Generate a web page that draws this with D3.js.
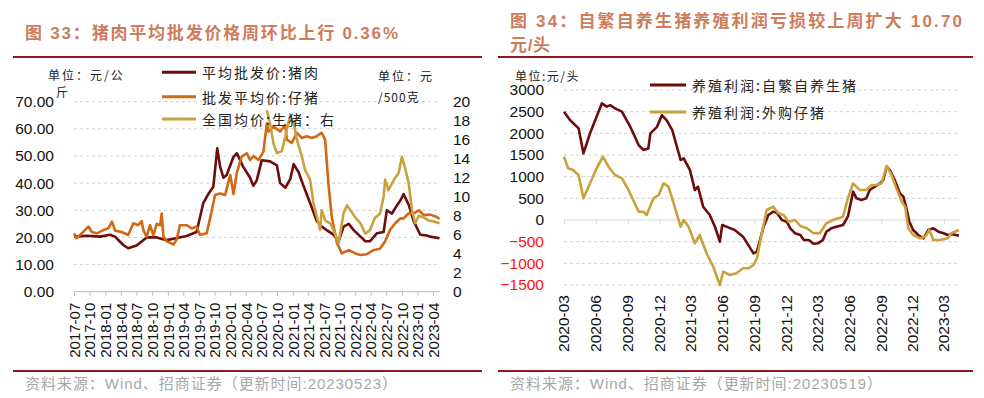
<!DOCTYPE html>
<html><head><meta charset="utf-8">
<script src="https://cdn.jsdelivr.net/npm/d3@7"></script>
<style>
html,body{margin:0;padding:0;background:#fff;}
svg{display:block;}
</style></head>
<body>
<svg id="chart" width="984" height="398"></svg>
<script>
// ---------------- Data: Figure 33 ----------------
const leftTickLabels = ["2017-07","2017-10","2018-01","2018-04","2018-07","2018-10","2019-01","2019-04","2019-07","2019-10","2020-01","2020-04","2020-07","2020-10","2021-01","2021-04","2021-07","2021-10","2022-01","2022-04","2022-07","2022-10","2023-01","2023-04"];
const leftAxisTicks = [0,10,20,30,40,50,60,70];
const rightAxisTicks = [0,2,4,6,8,10,12,14,16,18,20];

// 平均批发价:猪肉 (元/公斤, left axis)
const porkWholesale = [
["2017-07-01",20.3],["2017-09-14",20.6],["2017-12-01",20.3],["2018-01-28",21],["2018-02-26",20.3],
["2018-04-15",17.2],["2018-05-14",16],["2018-07-02",17],["2018-08-30",20],["2018-10-28",20],
["2018-12-25",19],["2019-02-04",19.5],["2019-04-21",20.5],["2019-06-18",22],["2019-07-27",32.6],
["2019-08-26",36],["2019-09-24",38.7],["2019-10-17",52.8],["2019-11-03",46],["2019-11-22",42],
["2019-12-11",43],["2020-01-20",49.7],["2020-02-09",51],["2020-03-17",46],["2020-04-26",42],
["2020-05-15",39],["2020-06-04",41],["2020-07-03",48.4],["2020-08-21",48],["2020-09-30",46.5],
["2020-10-19",40],["2020-11-18",38.3],["2020-12-17",41.5],["2021-01-06",47],["2021-02-04",44],
["2021-03-04",39],["2021-03-23",36],["2021-04-22",31],["2021-05-21",26],["2021-06-19",24],
["2021-07-18",22.7],["2021-08-27",21],["2021-09-26",18.6],["2021-10-25",24],["2021-11-24",25],
["2021-12-23",22.7],["2022-02-01",20.3],["2022-03-01",18.6],["2022-03-29",18.6],["2022-05-07",21.5],
["2022-06-16",22],["2022-07-05",30],["2022-08-04",28.8],["2022-09-02",31.8],["2022-09-22",33.6],
["2022-10-11",36],["2022-11-10",32],["2022-12-09",26],["2023-01-17",21],["2023-02-15",20.8],
["2023-03-15",20.3],["2023-05-09",19.7]
];
// 批发平均价:仔猪 (元/公斤, left axis)
const pigletWholesale = [
["2017-07-01",21.5],["2017-07-16",19.7],["2017-08-25",22.1],["2017-09-23",24],["2017-10-13",22],
["2017-11-11",21.5],["2017-12-20",22.7],["2018-01-19",23.4],["2018-02-08",25.8],["2018-02-27",22.5],
["2018-04-06",22],["2018-05-14",20.9],["2018-06-13",25.2],["2018-07-12",24.5],["2018-08-01",26],
["2018-08-10",22.8],["2018-08-30",20.3],["2018-09-19",24.5],["2018-10-08",20.8],["2018-10-28",25],
["2018-11-17",24.5],["2018-11-26",28.8],["2018-12-06",20.3],["2018-12-25",18.6],["2019-01-14",18],
["2019-02-04",17.4],["2019-02-23",19.5],["2019-03-12",24.5],["2019-04-21",24.5],["2019-05-20",23.3],
["2019-06-18",24],["2019-07-08",20.9],["2019-08-16",21.5],["2019-09-05",27],["2019-10-04",35.6],
["2019-11-03",36.2],["2019-12-02",35.6],["2020-01-01",43],["2020-01-20",36],["2020-02-09",44],
["2020-03-08",49.8],["2020-04-07",51],["2020-04-26",48.5],["2020-05-15",50],["2020-06-14",48.5],
["2020-07-13",51.6],["2020-08-02",62],["2020-08-12",59],["2020-09-10",60.8],["2020-10-19",59],
["2020-11-18",61.5],["2020-11-27",56],["2020-12-26",54.8],["2021-01-25",58.5],["2021-02-23",56.6],
["2021-03-23",57.3],["2021-04-22",56.6],["2021-05-21",57.3],["2021-06-19",58.5],["2021-07-09",56],
["2021-07-28",40],["2021-08-17",27.5],["2021-09-16",18],["2021-10-15",14.1],["2021-11-24",15.3],
["2022-01-02",14.1],["2022-02-01",13.5],["2022-03-09",13.8],["2022-04-17",15.3],["2022-05-26",15.8],
["2022-06-25",18.6],["2022-07-24",22.8],["2022-08-23",25.2],["2022-09-22",27],["2022-10-11",27],
["2022-11-10",28.9],["2022-12-09",28.9],["2023-01-08",30],["2023-02-06",28.2],["2023-03-15",28.4],
["2023-04-23",27.5],["2023-05-09",26.8]
];
// 全国均价:生猪 (元/500克, right axis)
const hogNational = [
["2020-08-02",19.1],["2020-08-21",17.7],["2020-09-10",15.6],["2020-09-30",14.6],["2020-10-29",14.8],
["2020-11-18",16.3],["2020-12-07",17.9],["2020-12-17",18.4],["2021-01-06",17.7],["2021-01-25",16],
["2021-02-23",14.2],["2021-03-14",12.8],["2021-04-12",11.8],["2021-05-02",9.3],["2021-05-31",7.2],
["2021-06-10",6.5],["2021-06-19",8.6],["2021-07-09",7.5],["2021-08-08",7.2],["2021-08-27",6.5],
["2021-09-26",5.1],["2021-10-25",8.3],["2021-11-14",9.1],["2021-12-03",8.6],["2022-01-02",7.8],
["2022-02-01",7.2],["2022-03-01",6.1],["2022-03-29",6.5],["2022-04-27",7.8],["2022-05-26",8.2],
["2022-06-16",10],["2022-06-25",11.8],["2022-07-14",10.7],["2022-08-04",11.4],["2022-08-23",12],
["2022-09-12",12.5],["2022-10-01",14.2],["2022-10-20",13],["2022-11-10",11.4],["2022-11-29",8.6],
["2022-12-18",7.2],["2023-01-08",8],["2023-02-06",7.8],["2023-03-05",7.5],["2023-04-04",7.4],
["2023-05-09",7.2]
];

// ---------------- Data: Figure 34 ----------------
const profitTickLabels = ["2020-03","2020-06","2020-09","2020-12","2021-03","2021-06","2021-09","2021-12","2022-03","2022-06","2022-09","2022-12","2023-03"];
const profitAxisTicks = [-1500,-1000,-500,0,500,1000,1500,2000,2500,3000];
// 养殖利润:自繁自养生猪 (元/头)
const profitSelfBred = [
["2020-03-01",2500],["2020-03-18",2307],["2020-04-12",2115],["2020-04-26",1538],["2020-05-15",2000],
["2020-06-18",2690],["2020-07-02",2615],["2020-07-12",2650],["2020-07-26",2576],["2020-08-15",2500],
["2020-09-08",2150],["2020-10-02",1730],["2020-10-16",1615],["2020-10-30",1650],["2020-11-05",2000],
["2020-11-24",2150],["2020-12-08",2420],["2020-12-22",2300],["2021-01-07",2076],["2021-01-31",1384],
["2021-02-09",1423],["2021-02-27",1150],["2021-03-13",692],["2021-03-22",769],["2021-04-06",307],
["2021-04-25",115],["2021-05-10",-154],["2021-05-24",-500],["2021-05-31",-115],["2021-06-17",-170],
["2021-07-06",-230],["2021-07-30",-385],["2021-08-29",-770],["2021-09-08",-730],["2021-09-17",-460],
["2021-09-27",-154],["2021-10-11",115],["2021-10-25",192],["2021-11-04",170],["2021-11-19",0],
["2021-12-03",-38],["2021-12-13",-192],["2021-12-27",-307],["2022-01-11",-346],["2022-01-21",-461],
["2022-02-04",-461],["2022-02-18",-550],["2022-03-03",-538],["2022-03-17",-461],["2022-03-27",-270],
["2022-04-10",-192],["2022-04-25",-154],["2022-05-14",-115],["2022-05-28",77],["2022-06-12",654],
["2022-06-22",500],["2022-07-06",461],["2022-07-20",500],["2022-07-30",692],["2022-08-14",769],
["2022-08-28",846],["2022-09-07",923],["2022-09-17",1230],["2022-09-26",1150],["2022-10-10",923],
["2022-10-25",615],["2022-11-04",538],["2022-11-14",230],["2022-11-21",-38],["2022-12-02",-230],
["2022-12-17",-346],["2023-01-01",-423],["2023-01-15",-230],["2023-01-29",-192],["2023-02-13",-270],
["2023-02-28",-307],["2023-03-12",-346],["2023-03-27",-330],["2023-04-13",-361]
];
// 养殖利润:外购仔猪 (元/头)
const profitPurchased = [
["2020-03-01",1461],["2020-03-13",1192],["2020-03-27",1153],["2020-04-12",1038],["2020-04-26",500],
["2020-05-15",846],["2020-06-03",1192],["2020-06-21",1461],["2020-07-07",1230],["2020-07-26",1038],
["2020-08-15",961],["2020-09-03",692],["2020-10-02",192],["2020-10-16",192],["2020-10-25",115],
["2020-11-14",500],["2020-11-29",577],["2020-12-13",846],["2020-12-27",769],["2021-01-11",384],
["2021-01-31",-154],["2021-02-09",0],["2021-02-23",-154],["2021-03-13",-538],["2021-03-27",-346],
["2021-04-16",-769],["2021-05-05",-1077],["2021-05-24",-1500],["2021-06-03",-1192],["2021-06-22",-1269],
["2021-07-11",-1230],["2021-07-30",-1115],["2021-08-14",-1115],["2021-08-29",-1038],["2021-09-08",-884],
["2021-09-22",-307],["2021-10-06",230],["2021-10-25",307],["2021-11-09",154],["2021-11-24",115],
["2021-12-08",-38],["2021-12-27",0],["2022-01-11",-138],["2022-01-30",-192],["2022-02-18",-307],
["2022-03-08",-307],["2022-03-27",-77],["2022-04-15",0],["2022-04-30",38],["2022-05-14",77],
["2022-05-28",500],["2022-06-12",846],["2022-07-01",692],["2022-07-20",692],["2022-08-04",808],
["2022-08-18",808],["2022-09-02",846],["2022-09-17",1246],["2022-10-01",1038],["2022-10-15",730],
["2022-10-30",423],["2022-11-09",307],["2022-11-18",-192],["2022-12-02",-346],["2022-12-22",-423],
["2023-01-06",-384],["2023-01-18",-230],["2023-01-29",-461],["2023-02-18",-461],["2023-03-12",-423],
["2023-03-22",-307],["2023-04-13",-230]
];

// ---------------- Drawing ----------------
const svg = d3.select("#chart");
const parseDay = d3.timeParse("%Y-%m-%d");
const parseMonth = d3.timeParse("%Y-%m");
const CJK = "'Noto Sans CJK SC', sans-serif";
const LAT = "'Liberation Sans', 'Noto Sans CJK SC', sans-serif";
const titleColor = "#CD7C5C";
const ruleColor = "#8E1B1B";
const gridColor = "#CFCFCF";
const cDark = "#6E0C0C", cOrange = "#D06814", cGold = "#C9A23E";

function title(x, y, txt, len) {
  svg.append("text").attr("x", x).attr("y", y).text(txt)
    .attr("font-family", LAT).attr("font-weight", "bold").attr("font-size", 17)
    .attr("fill", titleColor).attr("textLength", len).attr("lengthAdjust", "spacing");
}
function rule(x1, x2, y) {
  svg.append("line").attr("x1", x1).attr("x2", x2).attr("y1", y).attr("y2", y)
    .attr("stroke", ruleColor).attr("stroke-width", 2);
}
function footer(x, y, txt) {
  svg.append("text").attr("x", x).attr("y", y).text(txt)
    .attr("font-family", LAT).attr("font-size", 15).attr("fill", "#A6A6A6")
    .attr("textLength", 372).attr("lengthAdjust", "spacing");
}
function smallText(x, y, txt, size, ls) {
  svg.append("text").attr("x", x).attr("y", y).text(txt)
    .attr("font-family", CJK).attr("font-size", size).attr("letter-spacing", ls)
    .attr("fill", "#222").attr("dominant-baseline", "central");
}
function legendItem(x, y, color, txt, w) {
  svg.append("line").attr("x1", x).attr("x2", x + w).attr("y1", y).attr("y2", y)
    .attr("stroke", color).attr("stroke-width", 3);
  smallText(x + w + 6, y, txt, 14, 2);
}

// ===== Left chart =====
title(25, 39, "图 33：猪肉平均批发价格周环比上行 0.36%", 373);
rule(13, 482, 57);

const xL = d3.scaleTime().domain([parseMonth("2017-07"), parseMonth("2023-04")]).range([74, 433]);
const yL = d3.scaleLinear().domain([0, 70]).range([291.7, 101.7]);
const yR = d3.scaleLinear().domain([0, 20]).range([291.7, 101.7]);

const gL = svg.append("g");
gL.selectAll("line.grid").data(leftAxisTicks.filter(d => d > 0)).join("line")
  .attr("x1", 74).attr("x2", 440).attr("y1", d => yL(d)).attr("y2", d => yL(d))
  .attr("stroke", gridColor).attr("stroke-width", 1).attr("stroke-dasharray", "3,3");

// left y axis labels
gL.append("g").attr("transform", "translate(54,0)")
  .call(d3.axisLeft(yL).tickValues(leftAxisTicks).tickFormat(d3.format(".2f")).tickSize(0).tickPadding(0))
  .call(g => g.select(".domain").remove())
  .call(g => g.selectAll("text").attr("font-family", LAT).attr("font-size", 15.5).attr("fill", "#111"));
// right y axis labels
gL.append("g").attr("transform", "translate(453,0)")
  .call(d3.axisRight(yR).tickValues(rightAxisTicks).tickSize(0).tickPadding(0))
  .call(g => g.select(".domain").remove())
  .call(g => g.selectAll("text").attr("font-family", LAT).attr("font-size", 15.5).attr("fill", "#111"));

// x axis
const leftTickDates = leftTickLabels.map(parseMonth);
const xAxisL = gL.append("g").attr("transform", "translate(0,291.7)")
  .call(d3.axisBottom(xL).tickValues(leftTickDates).tickSize(4).tickFormat(d3.timeFormat("%Y-%m")).tickSizeOuter(0));
xAxisL.select(".domain").attr("d", "M74,0H440").attr("stroke", "#BBBBBB");
xAxisL.selectAll(".tick line").attr("stroke", "#BBBBBB");
xAxisL.selectAll(".tick text")
  .attr("font-family", LAT).attr("font-size", 15).attr("fill", "#111")
  .attr("text-anchor", "end").attr("dy", "0.35em")
  .attr("transform", "translate(0,11) rotate(-90)").attr("x", 0).attr("y", 0);

const lineL = d3.line().x(d => xL(parseDay(d[0]))).y(d => yL(d[1]));
const lineR = d3.line().x(d => xL(parseDay(d[0]))).y(d => yR(d[1]));
gL.append("path").datum(porkWholesale).attr("d", lineL).attr("fill", "none").attr("stroke", cDark).attr("stroke-width", 2.6).attr("stroke-linejoin", "round");
gL.append("path").datum(pigletWholesale).attr("d", lineL).attr("fill", "none").attr("stroke", cOrange).attr("stroke-width", 2.6).attr("stroke-linejoin", "round");
gL.append("path").datum(hogNational).attr("d", lineR).attr("fill", "none").attr("stroke", cGold).attr("stroke-width", 2.6).attr("stroke-linejoin", "round");

// units & legend
smallText(48, 74, "单位：元/公", 12, 2);
smallText(56, 91, "斤", 12, 2);
smallText(378, 75, "单位：元", 12, 2);
smallText(378, 96, "/500克", 12, 1);
legendItem(162, 72.3, cDark, "平均批发价:猪肉", 34);
legendItem(162, 96.7, cOrange, "批发平均价:仔猪", 34);
legendItem(162, 119, cGold, "全国均价:生猪：右", 34);

rule(13, 482, 371);
footer(25, 389, "资料来源：Wind、招商证券（更新时间:20230523）");

// ===== Right chart =====
title(510, 27, "图 34：自繁自养生猪养殖利润亏损较上周扩大 10.70", 452);
title(510, 51, "元/头", 40);
rule(498, 973, 57);

const xP = d3.scaleTime().domain([parseMonth("2020-03"), parseMonth("2023-03")]).range([564, 944]);
const yP = d3.scaleLinear().domain([-1500, 3000]).range([285, 90]);
const gR = svg.append("g");
gR.selectAll("line.grid").data(profitAxisTicks.filter(d => d !== 0)).join("line")
  .attr("x1", 564).attr("x2", 960).attr("y1", d => yP(d)).attr("y2", d => yP(d))
  .attr("stroke", gridColor).attr("stroke-width", 1).attr("stroke-dasharray", "3,3");

gR.append("g").attr("transform", "translate(544,0)")
  .call(d3.axisLeft(yP).tickValues(profitAxisTicks).tickFormat(d3.format("d")).tickSize(0).tickPadding(0))
  .call(g => g.select(".domain").remove())
  .call(g => g.selectAll("text").attr("font-family", LAT).attr("font-size", 15.5)
    .attr("fill", d => d < 0 ? "#FF1010" : "#111"));

const profitTickDates = profitTickLabels.map(parseMonth);
// zero axis with ticks
const zeroAxis = gR.append("g").attr("transform", `translate(0,${yP(0)})`)
  .call(d3.axisBottom(xP).tickValues(profitTickDates).tickSize(4).tickFormat("").tickSizeOuter(0));
zeroAxis.select(".domain").attr("d", "M564,0H960").attr("stroke", "#D9D9D9");
zeroAxis.selectAll(".tick line").attr("stroke", "#D9D9D9");
// bottom labels
gR.selectAll("text.xlab").data(profitTickDates).join("text")
  .attr("class", "xlab")
  .attr("transform", d => `translate(${xP(d)},295) rotate(-90)`)
  .attr("text-anchor", "end").attr("dy", "0.35em")
  .attr("font-family", LAT).attr("font-size", 15.5).attr("fill", "#111")
  .text(d3.timeFormat("%Y-%m"));

const lineP = d3.line().x(d => xP(parseDay(d[0]))).y(d => yP(d[1]));
gR.append("path").datum(profitSelfBred).attr("d", lineP).attr("fill", "none").attr("stroke", cDark).attr("stroke-width", 2.6).attr("stroke-linejoin", "round");
gR.append("path").datum(profitPurchased).attr("d", lineP).attr("fill", "none").attr("stroke", cGold).attr("stroke-width", 2.6).attr("stroke-linejoin", "round");

smallText(515, 75, "单位:元/头", 12, 1.5);
legendItem(650, 85, cDark, "养殖利润:自繁自养生猪", 36);
legendItem(650, 112, cGold, "养殖利润:外购仔猪", 36);

rule(498, 973, 371);
footer(510, 389, "资料来源：Wind、招商证券（更新时间:20230519）");
</script>
</body></html>
